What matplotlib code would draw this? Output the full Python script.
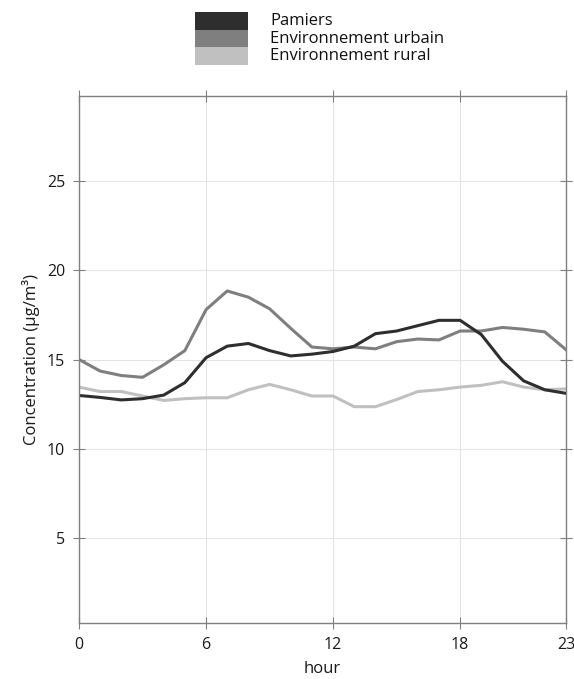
import matplotlib
matplotlib.use('Agg')
import matplotlib.pyplot as plt
from matplotlib.patches import Rectangle

plt.rcParams['font.family'] = ['Open Sans', 'DejaVu Sans']

# profils journaliers moyens (µg/m³)
hours = list(range(24))
pamiers = [12.98, 12.87, 12.73, 12.8, 13.0, 13.7, 15.1, 15.75, 15.9, 15.5,
           15.2, 15.3, 15.45, 15.75, 16.45, 16.6, 16.9, 17.2, 17.2, 16.4,
           14.9, 13.8, 13.3, 13.1]
urbain = [15.0, 14.35, 14.1, 14.0, 14.7, 15.5, 17.8, 18.85, 18.5, 17.85,
          16.75, 15.7, 15.6, 15.7, 15.6, 16.0, 16.15, 16.1, 16.6, 16.6,
          16.8, 16.7, 16.55, 15.55]
rural = [13.45, 13.2, 13.2, 12.95, 12.7, 12.8, 12.85, 12.85, 13.3, 13.6,
         13.3, 12.95, 12.95, 12.35, 12.35, 12.75, 13.2, 13.3, 13.45, 13.55,
         13.75, 13.45, 13.3, 13.35]

labels = ["Pamiers", "Environnement urbain", "Environnement rural"]
colors = ["#2e2e2e", "#7f7f7f", "#c0c0c0"]
x_ticks = [0, 6, 12, 18, 23]
y_ticks = [5, 10, 15, 20, 25]

W, H = 574, 679
fig = plt.figure(figsize=(W / 100, H / 100), dpi=100)
ax = fig.add_axes([79 / W, 56 / H, 487 / W, 527 / H])

for vals, col in zip([rural, urbain, pamiers], colors[::-1]):
    ax.plot(hours, vals, color=col, lw=2.2, solid_joinstyle='round')

ax.set_xlim(0, 23)
ax.set_ylim(0.2, 29.8)
ax.set_xticks(x_ticks)
ax.set_yticks(y_ticks)
ax.grid(True, color='#e4e4e4', lw=0.8)
ax.set_axisbelow(True)
for sp in ax.spines.values():
    sp.set_color('#808080')
    sp.set_linewidth(1.0)
ax.tick_params(direction='inout', length=8, width=0.8, color='#808080',
               labelsize=11.5, labelcolor='#1a1a1a',
               top=True, right=True, pad=6)
ax.set_xlabel("hour", fontsize=12, color='#1a1a1a', labelpad=6)
ax.set_ylabel("Concentration (µg/m³)", fontsize=12, color='#1a1a1a',
              labelpad=5)

# légende en haut : blocs de couleur empilés + libellés
leg = fig.add_axes([0, 0, 1, 1])
leg.set_xlim(0, W)
leg.set_ylim(H, 0)
leg.axis('off')
row_h = 17.7
for i, (lab, col) in enumerate(zip(labels, colors)):
    y0 = 12 + i * row_h
    leg.add_patch(Rectangle((195, y0), 53, row_h, facecolor=col,
                            edgecolor='none'))
    leg.text(270, y0 + row_h / 2, lab, fontsize=12, color='#111111',
             va='center', ha='left')

fig.savefig("out.png", dpi=100)
